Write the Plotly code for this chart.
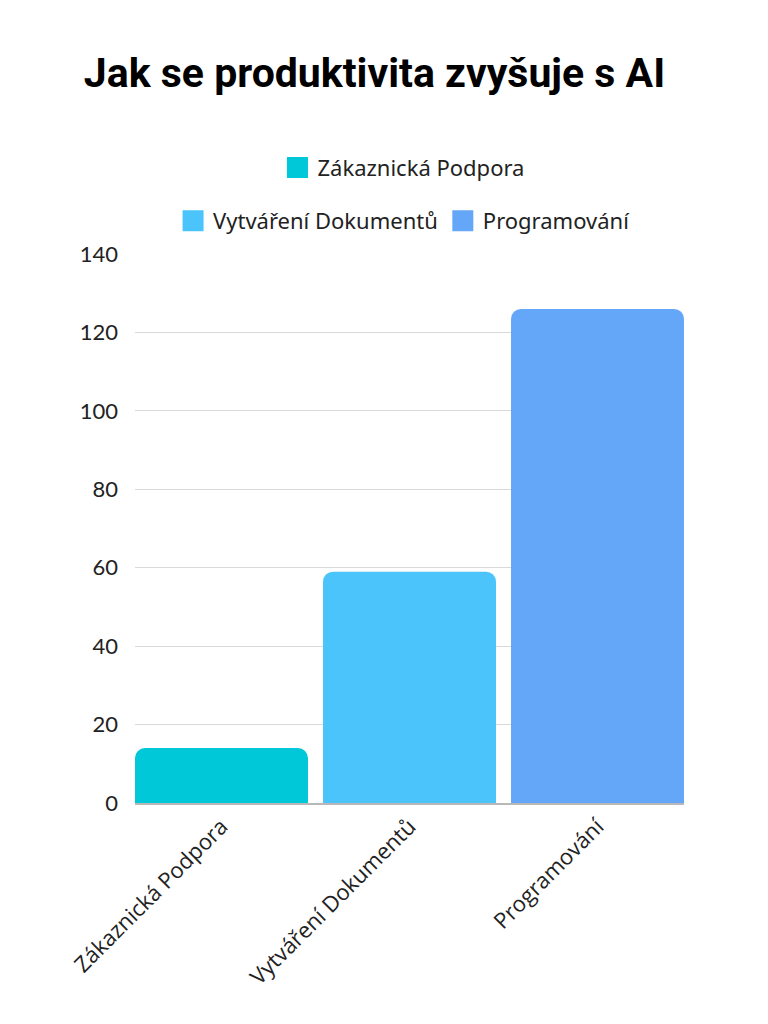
import plotly.graph_objects as go

categories = ["Zákaznická Podpora", "Vytváření Dokumentů", "Programování"]
values = [14, 59, 126]
colors = ["#00C8D8", "#4BC4FC", "#64A6F8"]
y_ticks = [0, 20, 40, 60, 80, 100, 120, 140]

fig = go.Figure()
for i, (cat, val, col) in enumerate(zip(categories, values, colors)):
    fig.add_trace(go.Bar(
        x=[cat], y=[val], marker=dict(color=col, cornerradius=10, line=dict(width=0)),
        width=0.92, showlegend=False, hoverinfo="skip",
    ))
for i, (cat, col) in enumerate(zip(categories, colors)):
    fig.add_trace(go.Scatter(
        x=[None], y=[None], mode="markers", name=cat,
        marker=dict(symbol="square", size=16, color=col, line=dict(color=col, width=10)),
        legend="legend" if i == 0 else "legend2",
    ))

legend_font = dict(family="Noto Sans", size=22, color="#222222")
fig.update_layout(
    width=768, height=1024,
    margin=dict(l=127, r=92, t=246, b=229),
    paper_bgcolor="white", plot_bgcolor="white",
    barmode="overlay",
    title=dict(text="<b>Jak se produktivita zvyšuje s AI</b>", x=366.5 / 768, xanchor="center",
               y=1 - 65 / 1024, yanchor="middle",
               font=dict(family="Roboto", size=41, color="#000000")),
    legend=dict(orientation="h", x=0.489, xanchor="center", y=1.157, yanchor="middle",
                font=legend_font, bgcolor="rgba(0,0,0,0)", itemwidth=30),
    legend2=dict(orientation="h", x=0.491, xanchor="center", y=1.060, yanchor="middle",
                 font=legend_font, bgcolor="rgba(0,0,0,0)", itemwidth=30),
    xaxis=dict(type="category", categoryorder="array", categoryarray=categories,
               range=[-0.46, 2.46], tickangle=-45, showgrid=False,
               showline=True, linecolor="#b8b8b8", linewidth=2, ticks="",
               tickfont=dict(family="Open Sans", size=22, color="#222222")),
    yaxis=dict(range=[0, 140], tickvals=y_ticks, showgrid=True, gridcolor="#d9d9d9",
               gridwidth=1, zeroline=False, ticks="", ticklabelstandoff=16,
               tickfont=dict(family="Lato", size=22, color="#222222")),
)
fig.write_html("out.html")
